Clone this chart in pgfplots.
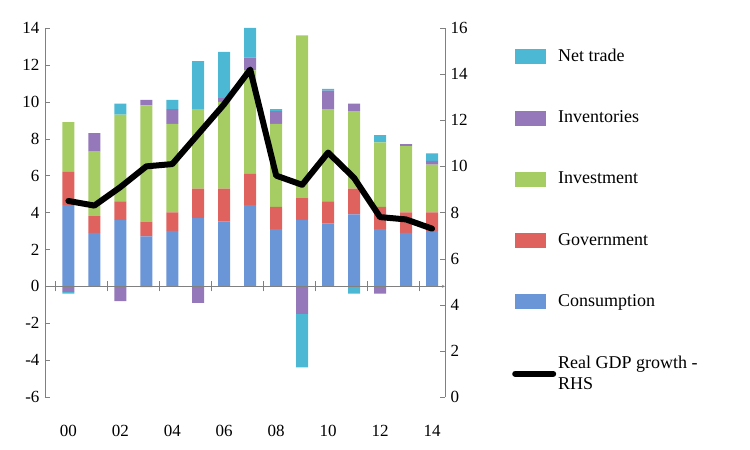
\documentclass[border=0pt]{standalone}
\usepackage{pgfplots}
\pgfplotsset{compat=1.18}
\usepackage{fontspec}
\setmainfont{Liberation Serif}
\definecolor{cons}{HTML}{6A95D6}
\definecolor{gov}{HTML}{E0625E}
\definecolor{inv}{HTML}{A6CC64}
\definecolor{invt}{HTML}{9478BA}
\definecolor{net}{HTML}{4CB8D4}
\pgfplotsset{base/.style={width=400pt,height=369pt,scale only axis,xmin=-0.9,xmax=14.5,
  ymin=-6,ymax=14,ybar stacked,bar width=12pt,
  every axis plot/.append style={draw=none}}}
\begin{document}
\fontsize{16}{19}\selectfont
\begin{tikzpicture}
\path (-45pt,-53pt) rectangle (705pt,397pt);
\begin{axis}[base,
  axis y line*=left, axis x line=none,
  ytick={-6,-4,...,14},
  tick label style={font=\fontsize{17}{20}\selectfont},
  /pgf/number format/assume math mode=true,
  axis line style={gray}, major tick length=5pt, tick style={gray}]
\addplot[fill=cons] coordinates {(0,4.4)(1,2.9)(2,3.6)(3,2.7)(4,3.0)(5,3.7)(6,3.5)(7,4.4)(8,3.1)(9,3.6)(10,3.4)(11,3.9)(12,3.1)(13,2.9)(14,3.0)};
\addplot[fill=gov] coordinates {(0,1.8)(1,0.9)(2,1.0)(3,0.8)(4,1.0)(5,1.6)(6,1.8)(7,1.7)(8,1.2)(9,1.2)(10,1.2)(11,1.4)(12,1.2)(13,1.1)(14,1.0)};
\addplot[fill=inv] coordinates {(0,2.7)(1,3.5)(2,4.7)(3,6.3)(4,4.8)(5,4.3)(6,4.7)(7,5.6)(8,4.5)(9,8.8)(10,5.0)(11,4.2)(12,3.5)(13,3.6)(14,2.6)};
\addplot[fill=invt] coordinates {(0,0)(1,1.0)(2,0)(3,0.3)(4,0.8)(5,0)(6,0.2)(7,0.7)(8,0.7)(9,0)(10,1.0)(11,0.4)(12,0)(13,0.1)(14,0.2)};
\addplot[fill=net] coordinates {(0,0)(1,0)(2,0.6)(3,0)(4,0.5)(5,2.6)(6,2.5)(7,1.6)(8,0.1)(9,0)(10,0.1)(11,0)(12,0.4)(13,0)(14,0.4)};
\end{axis}
\begin{axis}[base, hide axis]
\addplot[fill=invt] coordinates {(0,-0.3)(1,0)(2,-0.8)(3,0)(4,0)(5,-0.9)(6,0)(7,0)(8,0)(9,-1.5)(10,0)(11,0)(12,-0.4)(13,0)(14,0)};
\addplot[fill=net] coordinates {(0,-0.1)(1,0)(2,0)(3,-0.05)(4,0)(5,0)(6,0)(7,0)(8,0)(9,-2.9)(10,0)(11,-0.4)(12,0)(13,0)(14,0)};
\end{axis}
\begin{axis}[width=400pt,height=369pt,scale only axis,xmin=-0.9,xmax=14.5,ymin=0,ymax=16,
  axis y line*=right, axis x line*=none, hide x axis,
  ytick={0,2,...,16},
  /pgf/number format/assume math mode=true,
  tick label style={font=\fontsize{17}{20}\selectfont},
  axis line style={gray}, major tick length=5pt, tick style={gray},
  legend style={at={(rel axis cs:1.16,0.955)},anchor=north west,draw=none,fill=none,
    row sep=43pt,font=\fontsize{18}{21}\selectfont,cells={align=left,anchor=west}},
  legend cell align=left]
\addlegendimage{legend image code/.code={\fill[net](0pt,-7pt) rectangle (30pt,7pt);}}
\addlegendentry{Net trade}
\addlegendimage{legend image code/.code={\fill[invt](0pt,-7pt) rectangle (30pt,7pt);}}
\addlegendentry{Inventories}
\addlegendimage{legend image code/.code={\fill[inv](0pt,-7pt) rectangle (30pt,7pt);}}
\addlegendentry{Investment}
\addlegendimage{legend image code/.code={\fill[gov](0pt,-7pt) rectangle (30pt,7pt);}}
\addlegendentry{Government}
\addlegendimage{legend image code/.code={\fill[cons](0pt,-7pt) rectangle (30pt,7pt);}}
\addlegendentry{Consumption}
\addplot[black,line width=6pt,line join=round,line cap=round,legend image code/.code={\draw[black,line width=6pt,line cap=round](0pt,0pt)--(38pt,0pt);}] coordinates {(0,8.5)(1,8.3)(2,9.1)(3,10.0)(4,10.1)(5,11.4)(6,12.7)(7,14.2)(8,9.6)(9,9.2)(10,10.6)(11,9.5)(12,7.8)(13,7.7)(14,7.3)};
\addlegendentry{Real GDP growth -\\RHS}
\end{axis}
\begin{axis}[width=400pt,height=369pt,scale only axis,xmin=-0.9,xmax=14.5,ymin=-6,ymax=14,
  axis x line=middle, axis y line=none, axis line style={gray},
  xtick={0,2,...,14}, xticklabels={00,02,04,06,08,10,12,14},
  xticklabel style={font=\fontsize{17}{20}\selectfont, yshift=-133pt},
  major tick length=0pt,
  extra x ticks={-0.5,1.5,3.5,5.5,7.5,9.5,11.5,13.5}, extra x tick labels={},
  extra x tick style={major tick length=10pt, tick style={gray}, tick align=center}]
\end{axis}
\end{tikzpicture}
\end{document}
